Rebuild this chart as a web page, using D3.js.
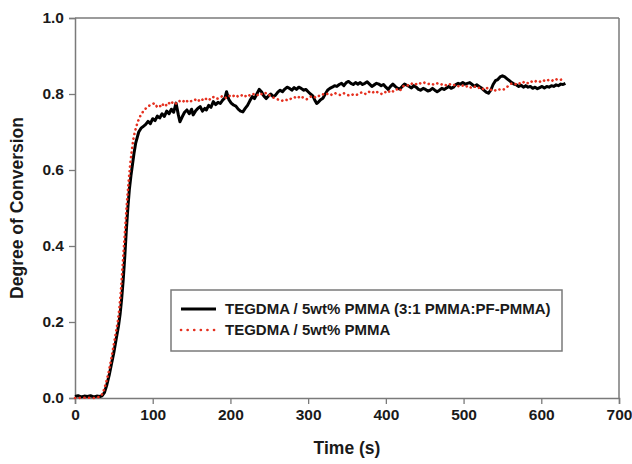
<!DOCTYPE html>
<html>
<head>
<meta charset="utf-8">
<script src="https://cdn.jsdelivr.net/npm/d3@7"></script>
<style>
  body { margin: 0; background: #fff; }
  text { font-family: "Liberation Sans", Arial, sans-serif; fill: #1a1a1a; }
</style>
</head>
<body>
<div id="chart"></div>
<script>
// series 1: TEGDMA / 5wt% PMMA (3:1 PMMA:PF-PMMA), solid black
const blackTime = [0,4,8,12,16,20,24,28,32,35,38,41,44,47,50,53,56,58,60,62,64,66,68,70,72,74,76,78,80,82,85,88,91,94,97,100,103,106,109,112,115,118,121,124,127,130,133,135,138,141,144,147,150,152,155,158,161,164,167,169,172,175,178,181,184,187,190,193,195,198,201,204,207,210,213,216,219,222,225,228,231,234,237,240,243,246,249,252,255,258,261,264,267,270,273,276,279,282,285,288,291,294,297,300,303,306,309,311,313,316,319,322,325,328,331,334,337,340,343,346,349,352,355,358,361,364,367,370,373,376,379,382,385,388,391,394,397,400,403,406,409,412,415,418,421,424,427,430,433,436,439,442,445,448,451,454,457,460,463,466,469,472,475,478,481,484,487,490,493,496,499,502,505,508,511,514,517,520,523,526,529,532,535,538,541,544,547,550,553,556,559,562,565,568,571,574,577,580,583,586,589,592,595,598,601,604,607,610,613,616,619,622,625,628,631];
const blackValue = [0.004,0.006,0.003,0.005,0.004,0.006,0.003,0.005,0.004,0.006,0.015,0.035,0.06,0.09,0.12,0.155,0.19,0.22,0.26,0.31,0.37,0.44,0.50,0.55,0.585,0.615,0.645,0.67,0.685,0.70,0.71,0.715,0.72,0.728,0.722,0.735,0.73,0.742,0.737,0.748,0.741,0.755,0.748,0.76,0.752,0.776,0.745,0.727,0.74,0.752,0.758,0.748,0.76,0.745,0.755,0.762,0.767,0.755,0.762,0.758,0.77,0.765,0.78,0.772,0.778,0.775,0.784,0.79,0.806,0.785,0.776,0.771,0.768,0.76,0.755,0.753,0.762,0.77,0.782,0.793,0.788,0.80,0.812,0.806,0.795,0.788,0.795,0.80,0.793,0.797,0.805,0.81,0.806,0.813,0.818,0.815,0.81,0.817,0.812,0.818,0.815,0.81,0.812,0.806,0.80,0.795,0.782,0.775,0.778,0.785,0.789,0.80,0.81,0.815,0.818,0.822,0.82,0.825,0.828,0.822,0.83,0.833,0.828,0.825,0.83,0.826,0.83,0.825,0.828,0.832,0.826,0.82,0.824,0.828,0.826,0.822,0.825,0.818,0.812,0.82,0.826,0.82,0.815,0.813,0.82,0.826,0.823,0.82,0.816,0.822,0.818,0.812,0.81,0.815,0.812,0.808,0.81,0.815,0.81,0.806,0.81,0.815,0.812,0.816,0.82,0.815,0.818,0.825,0.828,0.826,0.83,0.826,0.828,0.83,0.825,0.82,0.824,0.82,0.816,0.81,0.805,0.802,0.81,0.825,0.835,0.838,0.845,0.848,0.845,0.84,0.835,0.83,0.826,0.824,0.82,0.823,0.818,0.822,0.818,0.82,0.815,0.818,0.814,0.817,0.82,0.816,0.82,0.818,0.822,0.82,0.824,0.822,0.826,0.825,0.828];

// series 2: TEGDMA / 5wt% PMMA, red dotted
const redTime = [0,5,10,15,20,25,30,34,37,40,43,46,49,52,55,57,59,61,63,65,67,69,71,73,75,77,79,81,84,87,90,93,96,99,102,105,108,111,114,117,120,123,126,130,134,138,142,146,150,154,158,162,166,170,174,178,182,186,190,194,198,202,206,210,214,218,222,226,230,234,238,242,246,250,254,258,262,266,270,274,278,282,286,290,294,298,302,306,310,314,318,322,326,330,334,338,342,346,350,354,358,362,366,370,374,378,382,386,390,394,398,402,406,410,414,418,422,426,430,434,438,442,446,450,454,458,462,466,470,474,478,482,486,490,494,498,502,506,510,514,518,522,526,530,534,538,542,546,550,554,558,562,566,570,574,578,582,586,590,594,598,602,606,610,614,618,622,626,630];
const redValue = [0.0,0.0,0.001,0.0,0.001,0.0,0.002,0.006,0.02,0.04,0.065,0.095,0.13,0.165,0.2,0.235,0.28,0.34,0.40,0.46,0.52,0.57,0.615,0.65,0.68,0.70,0.715,0.728,0.742,0.752,0.76,0.765,0.77,0.772,0.776,0.768,0.772,0.765,0.775,0.77,0.778,0.772,0.78,0.775,0.782,0.778,0.785,0.778,0.782,0.786,0.78,0.788,0.782,0.79,0.785,0.792,0.787,0.79,0.795,0.79,0.796,0.792,0.798,0.793,0.797,0.792,0.799,0.795,0.8,0.796,0.802,0.798,0.803,0.797,0.792,0.788,0.785,0.782,0.786,0.783,0.788,0.792,0.788,0.795,0.79,0.786,0.792,0.795,0.79,0.795,0.8,0.797,0.802,0.798,0.803,0.799,0.797,0.802,0.798,0.795,0.799,0.797,0.802,0.805,0.8,0.806,0.802,0.808,0.804,0.8,0.806,0.802,0.81,0.806,0.812,0.808,0.82,0.824,0.822,0.828,0.825,0.83,0.826,0.83,0.826,0.828,0.824,0.828,0.824,0.827,0.822,0.826,0.822,0.825,0.82,0.823,0.818,0.822,0.816,0.82,0.815,0.818,0.812,0.816,0.81,0.813,0.808,0.812,0.81,0.815,0.822,0.828,0.825,0.83,0.826,0.832,0.828,0.834,0.83,0.835,0.832,0.837,0.833,0.838,0.835,0.84,0.836,0.838,0.832];

const legendLabels = ["TEGDMA / 5wt% PMMA (3:1 PMMA:PF-PMMA)", "TEGDMA / 5wt% PMMA"];
const xTicks = [0, 100, 200, 300, 400, 500, 600, 700];
const yTicks = [0.0, 0.2, 0.4, 0.6, 0.8, 1.0];

const W = 632, H = 464;
const margin = { top: 18, right: 13, bottom: 66, left: 75 };
const width = W - margin.left - margin.right;
const height = H - margin.top - margin.bottom;

const svg = d3.select("#chart").append("svg")
    .attr("width", W)
    .attr("height", H);

const g = svg.append("g")
    .attr("transform", `translate(${margin.left},${margin.top})`);

const x = d3.scaleLinear().domain([0, 700]).range([0, width]);
const y = d3.scaleLinear().domain([0, 1]).range([height, 0]);

const axisColor = "#7a7a7a";
const red = "#e5301f";

// axes
const xAxis = g.append("g")
    .attr("transform", `translate(0,${height})`)
    .call(d3.axisBottom(x).tickValues(xTicks).tickSize(6).tickPadding(5).tickFormat(d3.format("d")));
const yAxis = g.append("g")
    .call(d3.axisLeft(y).tickValues(yTicks).tickSize(6).tickPadding(5).tickFormat(d3.format(".1f")));

[xAxis, yAxis].forEach(a => {
    a.select(".domain").attr("stroke", axisColor).attr("stroke-width", 1.5);
    a.selectAll(".tick line").attr("stroke", axisColor).attr("stroke-width", 1.3);
    a.selectAll(".tick text")
        .style("font-family", "'Liberation Sans', Arial, sans-serif")
        .style("font-size", "15.5px")
        .style("font-weight", "bold")
        .attr("fill", "#1a1a1a");
});

// frame top and right
g.append("line").attr("x1", 0).attr("x2", width).attr("y1", 0).attr("y2", 0)
    .attr("stroke", axisColor).attr("stroke-width", 1.5);
g.append("line").attr("x1", width).attr("x2", width).attr("y1", 0).attr("y2", height)
    .attr("stroke", axisColor).attr("stroke-width", 1.5);

// axis titles
svg.append("text")
    .attr("x", margin.left + width / 2)
    .attr("y", 454)
    .attr("text-anchor", "middle")
    .style("font-size", "17.5px")
    .style("font-weight", "bold")
    .text("Time (s)");

svg.append("text")
    .attr("transform", `translate(23,${margin.top + height / 2}) rotate(-90)`)
    .attr("text-anchor", "middle")
    .style("font-size", "17.5px")
    .style("font-weight", "bold")
    .text("Degree of Conversion");

// lines
const line = d3.line()
    .x(d => x(d[0]))
    .y(d => y(d[1]));

const blackData = blackTime.map((t, i) => [t, blackValue[i]]);
const redData = redTime.map((t, i) => [t, redValue[i]]);

g.append("path")
    .datum(blackData)
    .attr("fill", "none")
    .attr("stroke", "#000")
    .attr("stroke-width", 3)
    .attr("stroke-linejoin", "round")
    .attr("d", line);

g.append("path")
    .datum(redData)
    .attr("fill", "none")
    .attr("stroke", red)
    .attr("stroke-width", 2.6)
    .attr("stroke-linecap", "round")
    .attr("stroke-dasharray", "0.1,4.6")
    .attr("d", line);

// legend
const legend = svg.append("g").attr("transform", "translate(171,290)");
legend.append("rect")
    .attr("width", 391).attr("height", 61)
    .attr("fill", "#fff")
    .attr("stroke", axisColor)
    .attr("stroke-width", 1.5);

const styles = [
    { stroke: "#000", width: 3, dash: null, cap: "butt" },
    { stroke: red, width: 2.6, dash: "0.1,6.5", cap: "round" }
];
legendLabels.forEach((label, i) => {
    const yy = 19 + i * 21;
    legend.append("line")
        .attr("x1", 10).attr("x2", 45)
        .attr("y1", yy).attr("y2", yy)
        .attr("stroke", styles[i].stroke)
        .attr("stroke-width", styles[i].width)
        .attr("stroke-linecap", styles[i].cap)
        .attr("stroke-dasharray", styles[i].dash);
    legend.append("text")
        .attr("x", 54).attr("y", yy)
        .attr("dy", "0.36em")
        .style("font-size", "15px")
        .style("font-weight", "bold")
        .text(label);
});
</script>
</body>
</html>
